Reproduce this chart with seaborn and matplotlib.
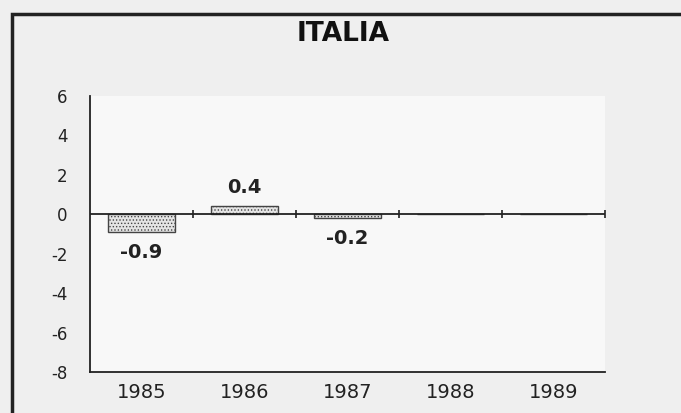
import matplotlib
matplotlib.use("Agg")
import matplotlib.pyplot as plt
import matplotlib.patches as mpatches
import seaborn as sns
import pandas as pd

years = ["1985", "1986", "1987", "1988", "1989"]
values = [-0.9, 0.4, -0.2, 0.0, 0.0]
value_labels = ["-0.9", "0.4", "-0.2", "", ""]
yticks = [-8, -6, -4, -2, 0, 2, 4, 6]
title = "ITALIA"

sns.set_style("white")
plt.rcParams["font.family"] = ["DejaVu Sans"]
plt.rcParams["axes.unicode_minus"] = False
plt.rcParams["hatch.color"] = "#555555"
plt.rcParams["hatch.linewidth"] = 0.6

df = pd.DataFrame({"year": years, "value": values})

fig = plt.figure(figsize=(6.81, 4.13), dpi=100, facecolor="#efefef")
ax = fig.add_axes([90 / 681, (413 - 372) / 413, (605 - 90) / 681, (372 - 96) / 413])
ax.set_facecolor("#f8f8f8")

sns.barplot(data=df, x="year", y="value", ax=ax, width=0.65,
            color="#e4e4e4", edgecolor="#444444", linewidth=1.0,
            saturation=1)
for p in ax.patches:
    p.set_hatch(".....")

ax.set_xlim(-0.5, 4.5)
ax.set_ylim(-8, 6)
ax.set_yticks(yticks)
ax.set_xlabel("")
ax.set_ylabel("")

for s in ["top", "right"]:
    ax.spines[s].set_visible(False)
for s in ["left", "bottom"]:
    ax.spines[s].set_color("#222222")
    ax.spines[s].set_linewidth(1.3)

ax.tick_params(axis="y", direction="inout", length=6, width=1.2,
               colors="#222222", labelsize=12, pad=13)
ax.tick_params(axis="x", length=0, labelsize=14, pad=8, colors="#222222")

# zero line with category-boundary ticks
ax.axhline(0, color="#222222", lw=1.3, zorder=3)
sec = ax.secondary_xaxis(0, transform=ax.transData)
sec.set_xticks([0.5, 1.5, 2.5, 3.5, 4.5])
sec.set_xticklabels([])
sec.spines["bottom"].set_visible(False)
sec.tick_params(direction="inout", length=6, width=1.2, colors="#222222")

for i, (v, lab) in enumerate(zip(values, value_labels)):
    if not lab:
        continue
    if v >= 0:
        ax.text(i, v + 0.5, lab, ha="center", va="bottom", fontsize=14,
                fontweight="bold", color="#222222")
    else:
        ax.text(i, v - 0.55, lab, ha="center", va="top", fontsize=14,
                fontweight="bold", color="#222222")

fig.text(343 / 681, 1 - 34 / 413, title, ha="center", va="center",
         fontsize=19, fontweight="bold", color="#111111")

frame = mpatches.Rectangle((12 / 681, -0.1), 1.2, (413 - 14) / 413 + 0.1,
                           transform=fig.transFigure, fill=False,
                           edgecolor="#222222", lw=2.5)
fig.patches.append(frame)

fig.savefig("out.png", dpi=100, facecolor=fig.get_facecolor())
